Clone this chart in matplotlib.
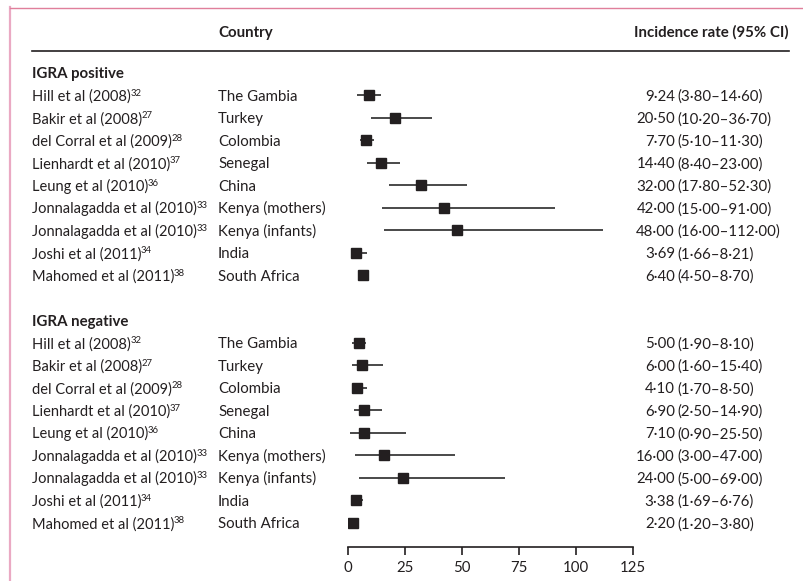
import matplotlib.pyplot as plt
import matplotlib.transforms as mtransforms
from matplotlib.lines import Line2D

plt.rcParams['font.family'] = ['Lato', 'DejaVu Sans']

studies = ["Hill et al (2008)", "Bakir et al (2008)", "del Corral et al (2009)",
           "Lienhardt et al (2010)", "Leung et al (2010)", "Jonnalagadda et al (2010)",
           "Jonnalagadda et al (2010)", "Joshi et al (2011)", "Mahomed et al (2011)"]
refs = ["32", "27", "28", "37", "36", "33", "33", "34", "38"]
countries = ["The Gambia", "Turkey", "Colombia", "Senegal", "China",
             "Kenya (mothers)", "Kenya (infants)", "India", "South Africa"]

pos_rate = [9.24, 20.50, 7.70, 14.40, 32.00, 42.00, 48.00, 3.69, 6.40]
pos_lo = [3.80, 10.20, 5.10, 8.40, 17.80, 15.00, 16.00, 1.66, 4.50]
pos_hi = [14.60, 36.70, 11.30, 23.00, 52.30, 91.00, 112.00, 8.21, 8.70]

neg_rate = [5.00, 6.00, 4.10, 6.90, 7.10, 16.00, 24.00, 3.38, 2.20]
neg_lo = [1.90, 1.60, 1.70, 2.50, 0.90, 3.00, 5.00, 1.69, 1.20]
neg_hi = [8.10, 15.40, 8.50, 14.90, 25.50, 47.00, 69.00, 6.76, 3.80]

groups = [("IGRA positive", pos_rate, pos_lo, pos_hi),
          ("IGRA negative", neg_rate, neg_lo, neg_hi)]
xticks = [0, 25, 50, 75, 100, 125]

W, H = 804, 581
fig = plt.figure(figsize=(W / 100, H / 100), dpi=100)
renderer = fig.canvas.get_renderer()

# row r sits at pixel y = 73 + 22.5*r
top_px, bot_px = 62, 547
ax = fig.add_axes([348 / W, 1 - bot_px / H, (633 - 348) / W, (bot_px - top_px) / H])
ax.set_xlim(0, 125)
ax.set_ylim((bot_px - 73) / 22.5, (top_px - 73) / 22.5)
for s in ['top', 'right', 'left']:
    ax.spines[s].set_visible(False)
ax.spines['bottom'].set_linewidth(1.2)
ax.spines['bottom'].set_color('#231f20')
ax.set_yticks([])
ax.set_xticks(xticks)
ax.set_xticklabels([str(t) for t in xticks])
ax.tick_params(axis='x', direction='out', length=6, width=1.2, color='#231f20',
               labelsize=10.8, labelcolor='#231f20', pad=4)
ax.patch.set_visible(False)

tr = mtransforms.blended_transform_factory(fig.transFigure, ax.transData)
fs = 10.8
col = '#231f20'
base = 0.236  # baseline offset below row centre, in rows

def fmt(v):
    return f"{v:.2f}".replace('.', '·')

row = 0
for title, rate, lo, hi in groups:
    ax.text(32 / W, row + base, title, transform=tr, fontsize=fs, fontweight='bold',
            va='baseline', ha='left', color=col)
    for i in range(len(rate)):
        r = row + 1 + i
        ax.plot([lo[i], hi[i]], [r, r], color='#3a3a3a', lw=1.3, solid_capstyle='butt')
        ax.plot(rate[i], r, marker='s', ms=7.5, color=col, mec=col)
        t = ax.text(32 / W, r + base, studies[i], transform=tr, fontsize=10.5,
                    va='baseline', ha='left', color=col)
        x1 = t.get_window_extent(renderer).x1
        ax.text((x1 - 0.5) / W, r + base - 5 / 22.5, refs[i], transform=tr, fontsize=6.8,
                va='baseline', ha='left', color=col)
        ax.text(218 / W, r + base, countries[i], transform=tr, fontsize=fs,
                va='baseline', ha='left', color=col)
        ax.text(675 / W, r + base, fmt(rate[i]), transform=tr, fontsize=fs,
                va='baseline', ha='right', color=col)
        ax.text(677 / W, r + base, f"({fmt(lo[i])}–{fmt(hi[i])})", transform=tr,
                fontsize=fs, va='baseline', ha='left', color=col)
    row += len(rate) + 2

# header
fig.text(218 / W, 1 - 37 / H, "Country", fontsize=fs, fontweight='bold',
         va='baseline', ha='left', color=col)
fig.text(789 / W, 1 - 37 / H, "Incidence rate (95% CI)", fontsize=fs,
         fontweight='bold', va='baseline', ha='right', color=col)
fig.add_artist(Line2D([32 / W, 789 / W], [1 - 51 / H, 1 - 51 / H],
                      color=col, lw=1.2, transform=fig.transFigure))

# pink frame
fig.add_artist(Line2D([10.5 / W, 10.5 / W], [0, 1 - 7 / H], color='#eaa9c3',
                      lw=1.6, transform=fig.transFigure))
fig.add_artist(Line2D([10 / W, 1], [1 - 7.5 / H, 1 - 7.5 / H], color='#e07f9b',
                      lw=1.0, transform=fig.transFigure))

fig.savefig('out.png', dpi=100)
